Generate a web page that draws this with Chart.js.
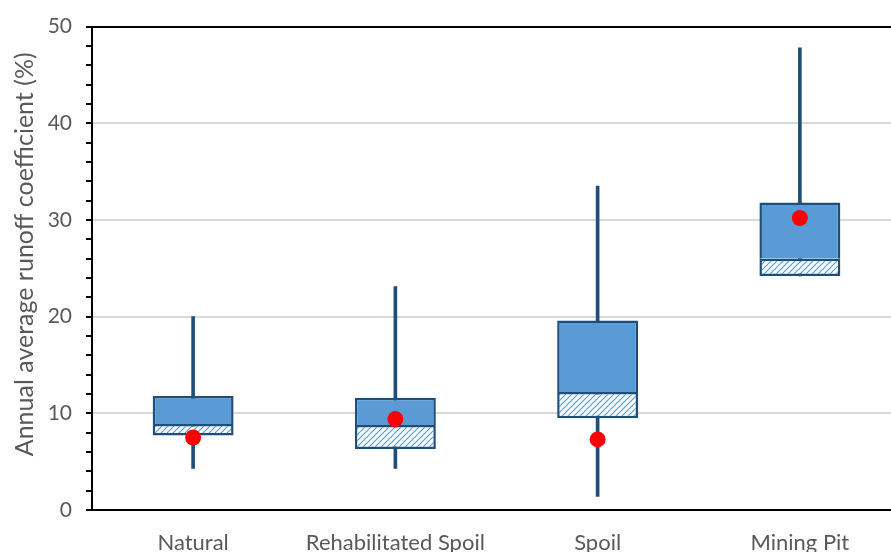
<!DOCTYPE html>
<html>
<head>
<meta charset="utf-8">
<script src="https://cdn.jsdelivr.net/npm/chart.js@4/dist/chart.umd.min.js"></script>
<style>
  html, body { margin: 0; padding: 0; overflow: hidden; background: #ffffff; }
  canvas { display: block; }
</style>
</head>
<body>
<canvas id="c" width="909" height="552"></canvas>
<script>
// Annual average runoff coefficient (%) by land type
const categories  = ['Natural', 'Rehabilitated Spoil', 'Spoil', 'Mining Pit'];
const whiskerLow  = [4.3, 4.3, 1.4, 24.2];
const q1          = [7.7, 6.3, 9.5, 24.2];
const median      = [8.9, 8.8, 12.2, 26.0];
const q3          = [11.8, 11.6, 19.6, 31.8];
const whiskerHigh = [20.0, 23.1, 33.5, 47.8];
const mean        = [7.5, 9.4, 7.3, 30.2];

const yTicks = [0, 10, 20, 30, 40, 50];
const yTitle = 'Annual average runoff coefficient (%)';

const DARK = '#1f4e79';
const FILL = '#5b9bd5';
const TEXT = '#595959';
const FONT = 'Lato, "Open Sans", sans-serif';

// diagonal hatch used for the lower half of each box
function hatch() {
  const s = 6;
  const c = document.createElement('canvas');
  c.width = s; c.height = s;
  const g = c.getContext('2d');
  g.fillStyle = '#ffffff';
  g.fillRect(0, 0, s, s);
  g.strokeStyle = FILL;
  g.lineWidth = 1.2;
  g.beginPath();
  g.moveTo(0, s); g.lineTo(s, 0);
  g.moveTo(-1, 1); g.lineTo(1, -1);
  g.moveTo(s - 1, s + 1); g.lineTo(s + 1, s - 1);
  g.stroke();
  return g.createPattern(c, 'repeat');
}

const pairs = (a, b) => a.map((v, i) => [v, b[i]]);

// rotated y-axis caption, set a little above the axis middle
const axisCaption = {
  id: 'axisCaption',
  afterDraw(chart) {
    const { ctx, chartArea } = chart;
    ctx.save();
    ctx.translate(33, (chartArea.top + chartArea.bottom) / 2 - 14);
    ctx.rotate(-Math.PI / 2);
    ctx.font = '25px ' + FONT;
    ctx.fillStyle = TEXT;
    ctx.textAlign = 'center';
    ctx.textBaseline = 'alphabetic';
    ctx.fillText(yTitle, 0, 0);
    ctx.restore();
  }
};

new Chart(document.getElementById('c'), {
  type: 'bar',
  data: {
    labels: categories,
    datasets: [
      {
        type: 'line',
        label: 'Mean',
        data: mean,
        showLine: false,
        pointRadius: 8,
        pointHoverRadius: 8,
        pointBackgroundColor: '#ff0000',
        pointBorderWidth: 0,
        order: 0
      },
      {
        label: 'Median to Q3',
        data: pairs(median, q3),
        backgroundColor: FILL,
        borderColor: DARK,
        borderWidth: 2.5,
        borderSkipped: 'start',
        barPercentage: 0.4,
        categoryPercentage: 1.0,
        grouped: false,
        order: 1
      },
      {
        label: 'Q1 to median',
        data: pairs(q1, median),
        backgroundColor: hatch(),
        borderColor: DARK,
        borderWidth: 2.5,
        borderSkipped: false,
        barPercentage: 0.4,
        categoryPercentage: 1.0,
        grouped: false,
        order: 2
      },
      {
        label: 'Whiskers',
        data: pairs(whiskerLow, whiskerHigh),
        backgroundColor: DARK,
        borderWidth: 0,
        barThickness: 3,
        grouped: false,
        order: 3
      }
    ]
  },
  options: {
    responsive: false,
    animation: false,
    events: [],
    layout: { padding: { top: 24, left: 0, right: 0, bottom: 0 } },
    plugins: { legend: { display: false }, tooltip: { enabled: false } },
    scales: {
      x: {
        offset: true,
        grid: { display: false, drawTicks: false },
        border: { display: true, color: '#000000', width: 2 },
        ticks: {
          color: TEXT,
          font: { family: FONT, size: 22 },
          padding: 20,
          maxRotation: 0,
          autoSkip: false
        },
        afterFit: (s) => { s.height = 42; }
      },
      y: {
        min: 0,
        max: 50,
        ticks: {
          stepSize: 2,
          autoSkip: false,
          color: TEXT,
          font: { family: FONT, size: 21 },
          padding: 14,
          callback: (v) => (yTicks.includes(v) ? String(v) : '')
        },
        grid: {
          color: (ctx) => {
            const v = ctx.tick ? ctx.tick.value : null;
            if (v === 50) return '#000000';
            if (v === 0) return 'rgba(0,0,0,0)';
            return yTicks.includes(v) ? '#d9d9d9' : 'rgba(0,0,0,0)';
          },
          lineWidth: 2,
          tickColor: '#000000',
          tickWidth: 2,
          tickLength: 6
        },
        border: { display: true, color: '#000000', width: 2 },
        title: { display: false },
        afterFit: (s) => { s.width = 92; }
      }
    }
  },
  plugins: [axisCaption]
});
</script>
</body>
</html>
